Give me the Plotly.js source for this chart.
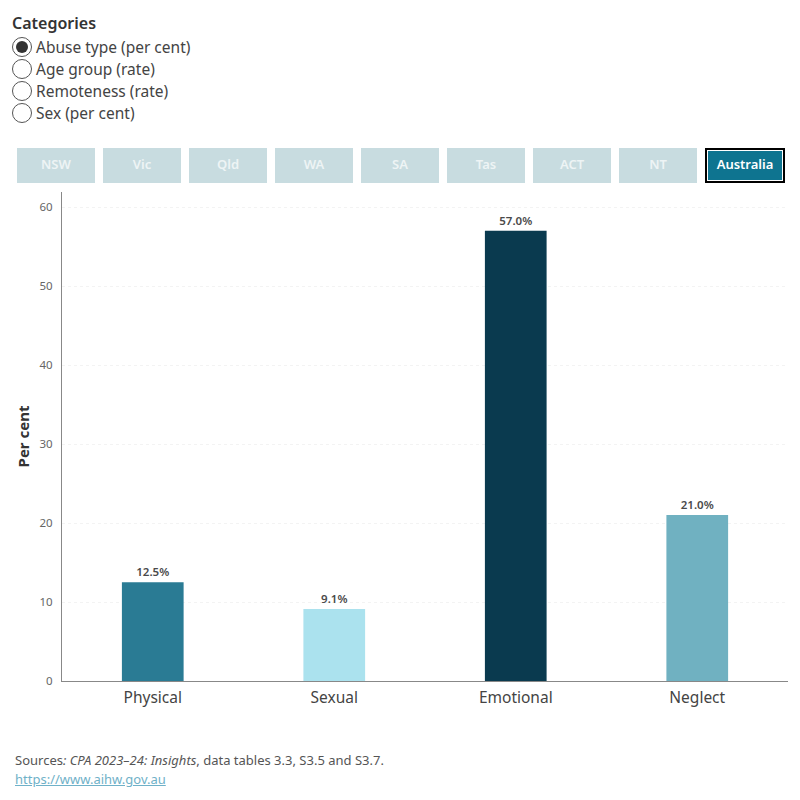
<!DOCTYPE html>
<html>
<head>
<meta charset="utf-8">
<script src="https://cdn.plot.ly/plotly-3.0.1.min.js"></script>
<style>
  html, body { margin: 0; padding: 0; background: #fff; }
  body { width: 800px; height: 800px; position: relative; overflow: hidden; font-family: "Noto Sans", "Open Sans", sans-serif; }
  #chart { position: absolute; left: 0; top: 0; width: 800px; height: 800px; }
  .ctrl { position: absolute; z-index: 2; }
  #cat-title { left: 12px; top: 12px; font-size: 16px; font-weight: 600; color: #333; }
  .radio { left: 12px; font-size: 15.5px; color: #444; height: 22px; line-height: 22px; display: flex; align-items: center; }
  .radio .dot { width: 20px; height: 20px; border: 1px solid #555; border-radius: 50%; box-sizing: border-box; margin-right: 4px; position: relative; background: #fff; }
  .radio .dot.on::after { content: ""; position: absolute; left: 3px; top: 3px; width: 12px; height: 12px; border-radius: 50%; background: #333; }
  .btn { top: 148px; height: 35px; width: 78px; background: #c8dce0; color: #eef4f5; font-size: 13px; font-weight: 600; text-align: center; line-height: 33px; box-sizing: border-box; }
  .btn.on { background: #0e7490; color: #fff; border: 2px solid #000; box-shadow: inset 0 0 0 1px #fff; line-height: 29px; }
  #source { left: 15px; top: 751px; font-size: 13px; color: #555; line-height: 19px; }
  #source a { color: #6fb1c8; text-decoration: underline; }
</style>
</head>
<body>
<div id="cat-title" class="ctrl">Categories</div>
<div id="radios"></div>
<div id="buttons"></div>
<div id="source" class="ctrl">Sources<i>: CPA 2023–24: Insights</i>, data tables 3.3, S3.5 and S3.7.<br><a>https://www.aihw.gov.au</a></div>
<div id="chart"></div>
<script>
// Category selector and jurisdiction filter options
const categoryOptions = ["Abuse type (per cent)", "Age group (rate)", "Remoteness (rate)", "Sex (per cent)"];
const jurisdictions = ["NSW", "Vic", "Qld", "WA", "SA", "Tas", "ACT", "NT", "Australia"];

// Substantiations by primary abuse type, Australia
const abuseTypes = ["Physical", "Sexual", "Emotional", "Neglect"];
const percentValues = [12.5, 9.1, 57.0, 21.0];
const barColors = ["#2a7b94", "#abe2ee", "#0a3a4f", "#70b1c1"];

// Build the radio list
const radios = document.getElementById("radios");
categoryOptions.forEach((label, i) => {
  const row = document.createElement("div");
  row.className = "ctrl radio";
  row.style.top = (36 + i * 22) + "px";
  row.innerHTML = '<span class="dot' + (i === 0 ? ' on' : '') + '"></span>' + label;
  radios.appendChild(row);
});

// Build the jurisdiction buttons
const buttons = document.getElementById("buttons");
jurisdictions.forEach((name, i) => {
  const b = document.createElement("div");
  b.className = "ctrl btn" + (name === "Australia" ? " on" : "");
  b.style.left = (17 + i * 86) + "px";
  b.style.width = (name === "Australia" ? 80 : 78) + "px";
  b.textContent = name;
  buttons.appendChild(b);
});

const trace = {
  type: "bar",
  x: abuseTypes,
  y: percentValues,
  marker: { color: barColors },
  width: 0.34,
  texttemplate: "%{y:.1f}%",
  textposition: "outside",
  cliponaxis: false,
  textfont: { family: "Noto Sans, sans-serif", size: 11.5, color: "#4a4a4a", weight: 600 },
  hoverinfo: "x+y"
};

const layout = {
  width: 800,
  height: 800,
  margin: { l: 62, r: 12, t: 192, b: 119 },
  paper_bgcolor: "rgba(0,0,0,0)",
  plot_bgcolor: "#fff",
  showlegend: false,
  font: { family: "Noto Sans, sans-serif", color: "#555" },
  xaxis: {
    type: "category",
    showline: true,
    linecolor: "#888",
    linewidth: 1,
    ticks: "",
    ticklabelstandoff: 2,
    tickfont: { size: 15.5, color: "#444" },
    showgrid: false,
    fixedrange: true
  },
  yaxis: {
    range: [0, 61.9],
    tickvals: [0, 10, 20, 30, 40, 50, 60],
    tickfont: { size: 11.5, color: "#666" },
    ticks: "",
    ticklabelstandoff: 6,
    showline: true,
    linecolor: "#888",
    linewidth: 1,
    showgrid: true,
    gridcolor: "#f3f3f3",
    griddash: "dot",
    zeroline: false,
    title: { text: "Per cent", font: { size: 15, color: "#333", weight: 700 }, standoff: 6 },
    fixedrange: true
  }
};

Plotly.newPlot("chart", [trace], layout, { displayModeBar: false, staticPlot: true });
</script>
</body>
</html>
